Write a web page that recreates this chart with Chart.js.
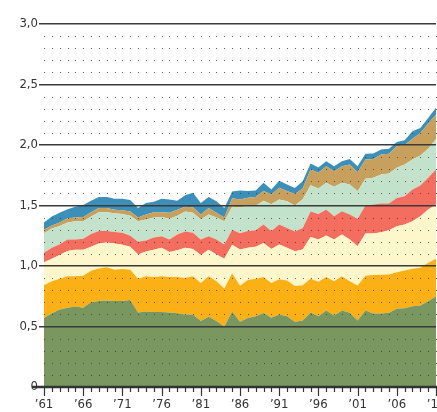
<!DOCTYPE html>
<html>
<head>
<meta charset="utf-8">
<script src="https://cdn.jsdelivr.net/npm/chart.js@4.4.1/dist/chart.umd.min.js"></script>
<style>
  html, body { margin: 0; padding: 0; background: #fff; }
  #wrap { position: relative; width: 437px; height: 412px; }
</style>
</head>
<body>
<div id="wrap"><canvas id="myChart"></canvas></div>
<script>
const years = [];
for (let y = 1961; y <= 2011; y++) years.push(y);

// layer values, bottom to top
const green = [0.57, 0.61, 0.64, 0.655, 0.665, 0.655, 0.70, 0.71, 0.715, 0.71, 0.71, 0.72, 0.615, 0.625, 0.62, 0.62, 0.615, 0.61, 0.60, 0.60, 0.545, 0.58, 0.545, 0.50, 0.625, 0.54, 0.57, 0.585, 0.612, 0.572, 0.60, 0.585, 0.54, 0.55, 0.615, 0.585, 0.632, 0.59, 0.632, 0.613, 0.55, 0.632, 0.608, 0.608, 0.613, 0.646, 0.651, 0.668, 0.674, 0.709, 0.75];
const orange = [0.27, 0.265, 0.255, 0.26, 0.25, 0.265, 0.26, 0.27, 0.275, 0.26, 0.265, 0.25, 0.28, 0.29, 0.29, 0.295, 0.295, 0.30, 0.30, 0.315, 0.315, 0.335, 0.33, 0.315, 0.315, 0.296, 0.315, 0.31, 0.298, 0.288, 0.29, 0.295, 0.294, 0.29, 0.28, 0.285, 0.278, 0.285, 0.284, 0.262, 0.289, 0.288, 0.317, 0.319, 0.317, 0.303, 0.312, 0.309, 0.311, 0.317, 0.309];
const cream = [0.19, 0.185, 0.195, 0.21, 0.22, 0.215, 0.20, 0.205, 0.205, 0.215, 0.20, 0.19, 0.20, 0.205, 0.225, 0.235, 0.205, 0.22, 0.25, 0.225, 0.23, 0.22, 0.22, 0.245, 0.235, 0.30, 0.265, 0.265, 0.28, 0.28, 0.288, 0.27, 0.288, 0.296, 0.345, 0.35, 0.342, 0.345, 0.344, 0.344, 0.325, 0.348, 0.343, 0.352, 0.366, 0.38, 0.38, 0.393, 0.427, 0.441, 0.449];
const red = [0.08, 0.09, 0.09, 0.095, 0.085, 0.09, 0.105, 0.105, 0.095, 0.095, 0.10, 0.09, 0.105, 0.09, 0.10, 0.095, 0.105, 0.13, 0.135, 0.135, 0.13, 0.11, 0.125, 0.118, 0.125, 0.134, 0.14, 0.135, 0.153, 0.15, 0.165, 0.165, 0.163, 0.179, 0.21, 0.21, 0.215, 0.192, 0.192, 0.207, 0.226, 0.232, 0.24, 0.237, 0.22, 0.234, 0.234, 0.262, 0.253, 0.262, 0.289];
const mint = [0.16, 0.16, 0.15, 0.14, 0.15, 0.145, 0.145, 0.155, 0.155, 0.155, 0.155, 0.165, 0.17, 0.175, 0.165, 0.16, 0.17, 0.155, 0.165, 0.165, 0.165, 0.18, 0.18, 0.192, 0.19, 0.215, 0.205, 0.20, 0.197, 0.22, 0.207, 0.221, 0.215, 0.237, 0.217, 0.21, 0.22, 0.242, 0.235, 0.247, 0.228, 0.221, 0.221, 0.241, 0.249, 0.248, 0.262, 0.248, 0.248, 0.239, 0.253];
const tan = [0.03, 0.025, 0.03, 0.035, 0.03, 0.035, 0.035, 0.035, 0.035, 0.03, 0.03, 0.035, 0.03, 0.04, 0.045, 0.04, 0.05, 0.05, 0.04, 0.045, 0.04, 0.055, 0.04, 0.03, 0.07, 0.065, 0.07, 0.075, 0.08, 0.08, 0.096, 0.084, 0.095, 0.088, 0.13, 0.13, 0.138, 0.13, 0.138, 0.166, 0.157, 0.159, 0.156, 0.164, 0.162, 0.179, 0.161, 0.171, 0.187, 0.21, 0.202];
const blue = [0.06, 0.075, 0.08, 0.075, 0.09, 0.10, 0.095, 0.09, 0.09, 0.09, 0.095, 0.095, 0.08, 0.095, 0.085, 0.11, 0.11, 0.075, 0.095, 0.12, 0.095, 0.09, 0.095, 0.08, 0.055, 0.075, 0.055, 0.055, 0.067, 0.042, 0.059, 0.053, 0.05, 0.06, 0.051, 0.045, 0.041, 0.041, 0.041, 0.046, 0.05, 0.047, 0.045, 0.042, 0.041, 0.034, 0.04, 0.063, 0.04, 0.046, 0.055];

const yTicks = [0, 0.5, 1, 1.5, 2, 2.5, 3];
const labelYears = [1961, 1966, 1971, 1976, 1981, 1986, 1991, 1996, 2001, 2006, 2011];

const layers = [
  { data: green, color: "#79975f" },
  { data: orange, color: "#fbb116" },
  { data: cream, color: "#fff7cc" },
  { data: red, color: "#f36e5f" },
  { data: mint, color: "#c2e2cc" },
  { data: tan, color: "#c6a05c" },
  { data: blue, color: "#3b8fb9" },
];

const FONT = "'Liberation Sans Narrow', 'DejaVu Sans Condensed', sans-serif";
const INK = "#333";

// dotted grid, year ticks and the baseline
const axisDecor = {
  id: "axisDecor",
  afterDatasetsDraw(chart) {
    const { ctx, scales } = chart;
    ctx.save();
    ctx.fillStyle = "rgba(50,50,50,0.75)";
    for (let v = 1; v < 30; v++) {
      if (v % 5 === 0) continue;
      const py = Math.round(scales.y.getPixelForValue(v / 10));
      years.forEach((yr) => {
        const px = Math.round(scales.x.getPixelForValue(yr));
        ctx.fillRect(px, py, 1, 1);
      });
    }
    ctx.restore();
  },
  afterDraw(chart) {
    const { ctx, scales } = chart;
    const base = scales.y.getPixelForValue(0);
    ctx.save();
    ctx.strokeStyle = INK;
    ctx.lineWidth = 1.2;
    years.forEach((yr) => {
      const px = Math.round(scales.x.getPixelForValue(yr)) + 0.5;
      const len = (yr - 1961) % 5 === 0 ? 9 : 5;
      ctx.beginPath();
      ctx.moveTo(px, base);
      ctx.lineTo(px, base + len);
      ctx.stroke();
    });
    ctx.lineWidth = 2.5;
    ctx.beginPath();
    ctx.moveTo(32, base);
    ctx.lineTo(chart.width, base);
    ctx.stroke();
    ctx.restore();
  },
};

const ctx = document.getElementById("myChart").getContext("2d");
const myChart = new Chart(ctx, {
  type: "line",
  data: {
    labels: years,
    datasets: layers.map((l, i) => ({
      data: l.data.map((v, j) => ({ x: years[j], y: v })),
      backgroundColor: l.color,
      borderWidth: 0,
      pointRadius: 0,
      tension: 0,
      fill: i === 0 ? "origin" : "-1",
    })),
  },
  options: {
    responsive: true,
    maintainAspectRatio: false,
    animation: false,
    layout: { padding: { top: 24, right: 1, left: 0, bottom: 0 } },
    plugins: { legend: { display: false }, tooltip: { enabled: false } },
    scales: {
      x: {
        type: "linear",
        min: 1961,
        max: 2011,
        border: { display: false },
        grid: { display: false, drawTicks: false },
        afterBuildTicks(scale) {
          scale.ticks = labelYears.map((v) => ({ value: v }));
        },
        afterFit(scale) {
          scale.paddingLeft = 0;
          scale.paddingRight = 0;
          scale.height = 25;
        },
        ticks: {
          autoSkip: false,
          maxRotation: 0,
          padding: 10,
          color: INK,
          font: { family: FONT, size: 13 },
          callback: (v) => "\u2019" + String(v).slice(2),
        },
      },
      y: {
        stacked: true,
        min: 0,
        max: 3,
        border: { display: false },
        afterBuildTicks(scale) {
          scale.ticks = yTicks.map((v) => ({ value: v }));
        },
        afterFit(scale) {
          scale.width = 44;
          scale.paddingTop = 0;
        },
        grid: {
          z: 1,
          color: (c) => (c.tick && c.tick.value === 0 ? "rgba(0,0,0,0)" : "#3a3a3a"),
          lineWidth: 1.5,
          drawTicks: true,
          tickLength: 5,
        },
        ticks: {
          padding: 1,
          color: INK,
          font: { family: FONT, size: 13 },
          callback: (v) => (v === 0 ? "0" : v.toFixed(1).replace(".", ",")),
        },
      },
    },
  },
  plugins: [axisDecor],
});
</script>
</body>
</html>
